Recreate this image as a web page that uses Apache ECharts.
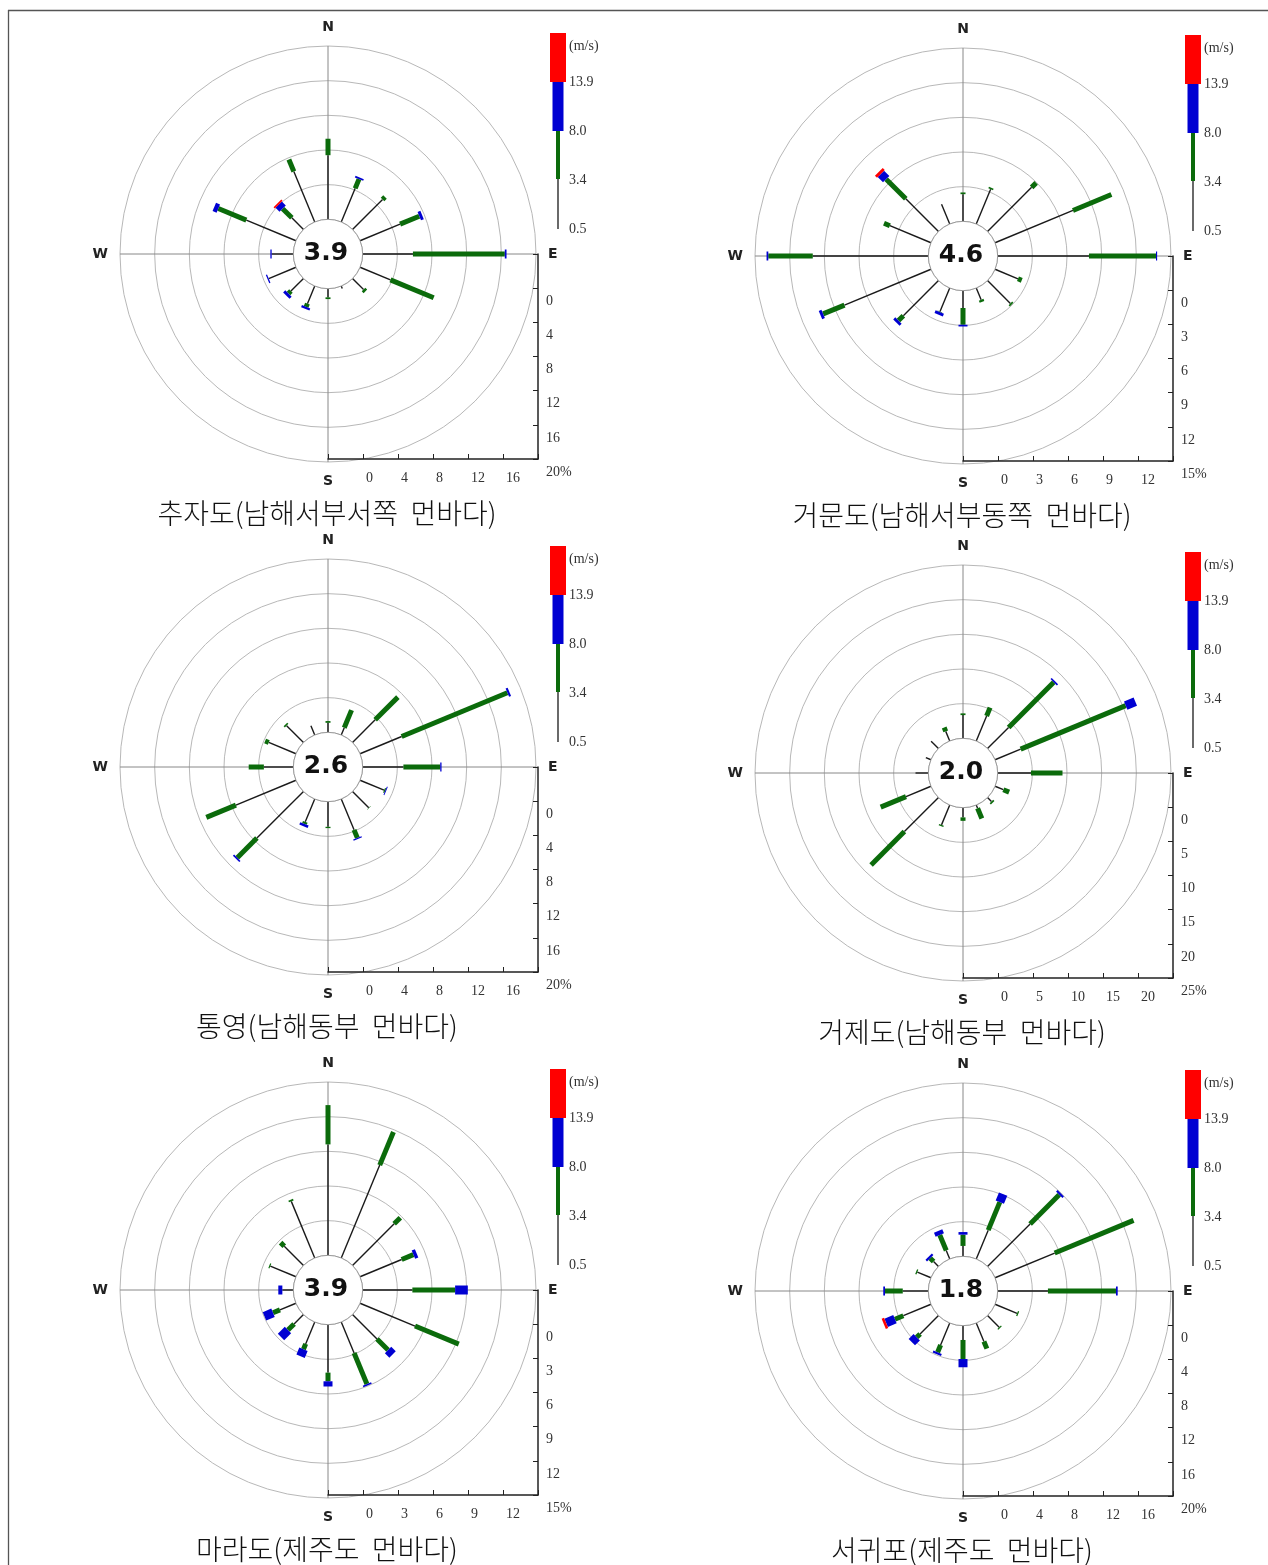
<!DOCTYPE html>
<html><head><meta charset="utf-8">
<script src="https://cdn.jsdelivr.net/npm/echarts@6/dist/echarts.min.js"></script>
<style>html,body{margin:0;padding:0;background:#fff}#c{width:1268px;height:1565px}</style>
</head><body><div id="c"></div>
<script>
// ---------- data ----------
const directions = ['N','NNE','NE','ENE','E','ESE','SE','SSE','S','SSW','SW','WSW','W','WNW','NW','NNW'];
const dirAngles  = [0,22.5,45,67.5,90,112.5,135,157.5,180,202.5,225,247.5,270,292.5,315,337.5];
const speedClasses = ['0.5','3.4','8.0','13.9'];
const classColors  = ['#1a1a1a','#0b6b0b','#0000d2','#ff0000'];
const stationNames = ['추자도(남해서부서쪽  먼바다)','거문도(남해서부동쪽  먼바다)','통영(남해동부  먼바다)','거제도(남해동부  먼바다)','마라도(제주도  먼바다)','서귀포(제주도  먼바다)'];
const calmValues = [3.9, 4.6, 2.6, 2.0, 3.9, 1.8];
const scaleMax  = [20, 15, 20, 25, 15, 20];
const scaleStep = [4, 3, 4, 5, 3, 4];

// frequency (%) per direction for each wind-speed class: 0.5–3.4, 3.4–8.0, 8.0–13.9, >13.9 m/s
const chujado_lo  = [7.4,4.2,4.9,5.0,5.8,3.8,1.8,0.3,1.0,2.2,2.05,3.4,2.5,6.2,1.9,6.3];
const chujado_mid = [1.9,1.15,0.4,2.4,10.6,5.4,0.3,0,0.2,0.4,0.4,0,0,3.5,1.5,1.5];
const chujado_hi  = [0,0.2,0,0.35,0.2,0,0,0,0,0.25,0.35,0.15,0.15,0.5,0.65,0];
const chujado_top = [0,0,0,0,0,0,0,0,0,0,0,0,0,0,0.2,0];

const geomundo_lo  = [2.35,3.25,5.4,7.3,7.9,2.15,2.8,1.1,1.5,2.2,4.3,8.1,10.0,3.85,4.0,1.85];
const geomundo_mid = [0.15,0.15,0.55,3.6,5.8,0.35,0.15,0.2,1.45,0.05,0.6,2.0,3.85,0.55,2.4,0];
const geomundo_hi  = [0,0,0,0,0.1,0,0,0,0.15,0.25,0.25,0.25,0.15,0,0.65,0];
const geomundo_top = [0,0,0,0,0,0,0,0,0,0,0,0,0,0,0.25,0];

const tongyeong_lo  = [1.1,0.9,3.7,5.2,4.7,3.0,2.65,3.85,2.9,2.85,7.6,7.5,3.4,3.4,2.75,1.15];
const tongyeong_mid = [0.2,2.2,3.7,13.2,4.25,0.15,0.05,1.0,0.15,0.25,3.2,3.7,1.75,0.45,0.2,0];
const tongyeong_hi  = [0,0,0,0.25,0.15,0.1,0,0.15,0,0.3,0.2,0,0,0,0,0];
const tongyeong_top = [0,0,0,0,0,0,0,0,0,0,0,0,0,0,0,0];

const geojedo_lo  = [3.35,3.9,4.3,4.0,4.8,1.3,0.8,0.5,1.4,3.1,6.95,3.9,1.85,0.8,1.5,1.5];
const geojedo_mid = [0.25,1.3,9.2,16.4,4.55,0.9,0.25,1.6,0.5,0.2,6.8,3.95,0,0,0,0.6];
const geojedo_hi  = [0,0,0.25,1.5,0,0,0,0,0,0,0,0,0,0,0,0];
const geojedo_top = [0,0,0,0,0,0,0,0,0,0,0,0,0,0,0,0];

const marado_lo  = [9.6,8.7,5.1,3.9,4.3,5.15,3.0,2.9,4.15,2.05,1.15,1.5,0.95,2.4,2.35,5.3];
const marado_mid = [3.4,3.1,0.75,1.1,3.7,4.1,1.35,2.9,0.75,0.5,0.75,0.65,0,0.1,0.45,0.15];
const marado_hi  = [0,0,0,0.3,1.1,0,0.55,0.15,0.45,0.65,0.85,0.8,0.35,0,0,0];
const marado_top = [0,0,0,0,0,0,0,0,0,0,0,0,0,0,0,0];

const seogwipo_lo  = [1.2,3.6,6.95,7.45,5.8,2.75,1.9,2.3,1.65,2.75,3.0,3.45,2.95,1.7,0.8,1.05];
const seogwipo_mid = [1.3,3.5,4.75,9.85,7.85,0.15,0.15,0.9,2.2,0.9,0.55,1.05,2.05,0.15,0.55,1.95];
const seogwipo_hi  = [0.3,1.0,0.25,0,0.2,0,0,0,0.95,0.25,0.8,1.1,0.2,0,0.25,0.5];
const seogwipo_top = [0,0,0,0,0,0,0,0,0,0,0,0.3,0,0,0,0];

const stationClasses = [
  [chujado_lo, chujado_mid, chujado_hi, chujado_top],
  [geomundo_lo, geomundo_mid, geomundo_hi, geomundo_top],
  [tongyeong_lo, tongyeong_mid, tongyeong_hi, tongyeong_top],
  [geojedo_lo, geojedo_mid, geojedo_hi, geojedo_top],
  [marado_lo, marado_mid, marado_hi, marado_top],
  [seogwipo_lo, seogwipo_mid, seogwipo_hi, seogwipo_top]
];

// ---------- layout ----------
const centers = [[327,254],[962,256],[327,767],[962,773],[327,1290],[962,1291]];
const R = 208;
const serif = 'Liberation Serif, DejaVu Serif, serif';
const sans = 'DejaVu Sans, Verdana, sans-serif';
const widths = [1.4, 5, 9, 11];

function renderRose(params, api) {
  const ang = api.value(1);
  const cum = [api.value(2), api.value(3), api.value(4), api.value(0)];
  const children = [];
  let prev = 0;
  for (let k = 0; k < 4; k++) {
    if (cum[k] - prev > 0.001) {
      const p1 = api.coord([prev, ang]);
      const p2 = api.coord([cum[k], ang]);
      children.push({type:'line', shape:{x1:p1[0], y1:p1[1], x2:p2[0], y2:p2[1]},
        style:{stroke:classColors[k], lineWidth:widths[k], lineCap:'butt'}});
    }
    prev = cum[k];
  }
  return {type:'group', children};
}

function makeCalmRenderer(minV) {
  return function (params, api) {
    const c = api.coord([minV, 0]);
    const e = api.coord([0, 0]);
    const r = Math.hypot(e[0]-c[0], e[1]-c[1]);
    return {type:'group', children:[
      {type:'circle', shape:{cx:c[0], cy:c[1], r:r}, style:{fill:'#fff', stroke:'#9a9a9a', lineWidth:1}},
      {type:'text', style:{text:api.value(2).toFixed(1), x:c[0]-2, y:c[1]-1, align:'center', verticalAlign:'middle',
        fontFamily:sans, fontWeight:'bold', fontSize:25, fill:'#111'}}
    ]};
  };
}

const polar = [], angleAxis = [], radiusAxis = [], grid = [], xAxis = [], yAxis = [], series = [], graphic = [];

graphic.push({type:'line', shape:{x1:8, y1:10.5, x2:1268, y2:10.5}, style:{stroke:'#555', lineWidth:1.3}});
graphic.push({type:'line', shape:{x1:8.5, y1:10, x2:8.5, y2:1565}, style:{stroke:'#555', lineWidth:1.3}});

centers.forEach((c, i) => {
  const step = scaleStep[i], maxV = scaleMax[i];
  polar.push({center:[c[0] + 1, c[1]], radius:[0, R]});
  angleAxis.push({polarIndex:i, type:'value', min:0, max:360, interval:90, startAngle:90, clockwise:true,
    axisLine:{show:false}, axisTick:{show:false},
    axisLabel:{show:true, margin:12, color:'#222', fontFamily:sans, fontWeight:'bold', fontSize:14,
      formatter: v => ({0:'N',90:'E',180:'S',270:'W'})[v] || ''},
    splitLine:{show:true, lineStyle:{color:'#888', width:1}}});
  radiusAxis.push({polarIndex:i, type:'value', min:-step, max:maxV, interval:step,
    axisLine:{show:false}, axisTick:{show:false}, axisLabel:{show:false},
    splitLine:{show:true, lineStyle:{color:'#b8b8b8', width:1}}});

  grid.push({left:c[0] + 1, top:c[1], width:210, height:205, containLabel:false});
  xAxis.push({gridIndex:i, type:'value', min:-step, max:maxV, interval:step, position:'bottom',
    axisLine:{show:true, onZero:false, lineStyle:{color:'#222', width:1.5}},
    axisTick:{show:true, inside:true, length:5, lineStyle:{color:'#222'}},
    axisLabel:{showMinLabel:true, showMaxLabel:true, margin:12, align:'left', padding:[0,0,0,3], color:'#333', fontFamily:serif, fontSize:14,
      formatter: v => (v < 0 || v >= maxV) ? '' : String(v)},
    splitLine:{show:false}});
  yAxis.push({gridIndex:i, type:'value', min:-step, max:maxV, interval:step, inverse:true, position:'right',
    axisLine:{show:true, onZero:false, lineStyle:{color:'#222', width:1.5}},
    axisTick:{show:true, inside:true, length:5, lineStyle:{color:'#222'}},
    axisLabel:{showMinLabel:true, showMaxLabel:true, margin:8, verticalAlign:'top', padding:[6,0,0,0], color:'#333', fontFamily:serif, fontSize:14,
      formatter: v => v < 0 ? '' : (v >= maxV ? v + '%' : String(v))},
    splitLine:{show:false}});

  const cls = stationClasses[i];
  const data = dirAngles.map((a, d) => {
    const c1 = cls[0][d], c2 = c1 + cls[1][d], c3 = c2 + cls[2][d], c4 = c3 + cls[3][d];
    return [c4, a, c1, c2, c3];
  });
  series.push({type:'custom', coordinateSystem:'polar', polarIndex:i, renderItem:renderRose, data:data, z:3, silent:true});
  series.push({type:'custom', coordinateSystem:'polar', polarIndex:i, renderItem:makeCalmRenderer(-step), data:[[0, 0, calmValues[i]]], z:4, silent:true});

  // speed legend
  const lx = c[0] + 231, ly = c[1];
  const segs = [[-221,-172,16],[-172,-123,11],[-123,-75,4],[-75,-25,1.3]];
  const segColors = [classColors[3], classColors[2], classColors[1], classColors[0]];
  segs.forEach((s, k) => {
    graphic.push({type:'rect', shape:{x:lx - s[2]/2, y:ly + s[0], width:s[2], height:s[1]-s[0]}, style:{fill:segColors[k]}});
  });
  const legLabels = ['(m/s)', speedClasses[3], speedClasses[2], speedClasses[1], speedClasses[0]];
  const legY = [-208, -172, -123, -74, -25];
  legLabels.forEach((t, k) => {
    graphic.push({type:'text', style:{text:t, x:lx + 11, y:ly + legY[k], align:'left', verticalAlign:'middle',
      fontFamily:serif, fontSize:14, fill:'#333'}});
  });
  // station title
  graphic.push({type:'text', style:{text:stationNames[i], x:c[0], y:c[1] + 259, align:'center', verticalAlign:'middle',
    fontFamily:'Noto Sans CJK KR, sans-serif', fontWeight:300, fontSize:28, fill:'#111'}});
});

const chart = echarts.init(document.getElementById('c'), null, {renderer:'canvas'});
chart.setOption({animation:false, backgroundColor:'#fff', polar, angleAxis, radiusAxis, grid, xAxis, yAxis, series, graphic});
</script></body></html>
